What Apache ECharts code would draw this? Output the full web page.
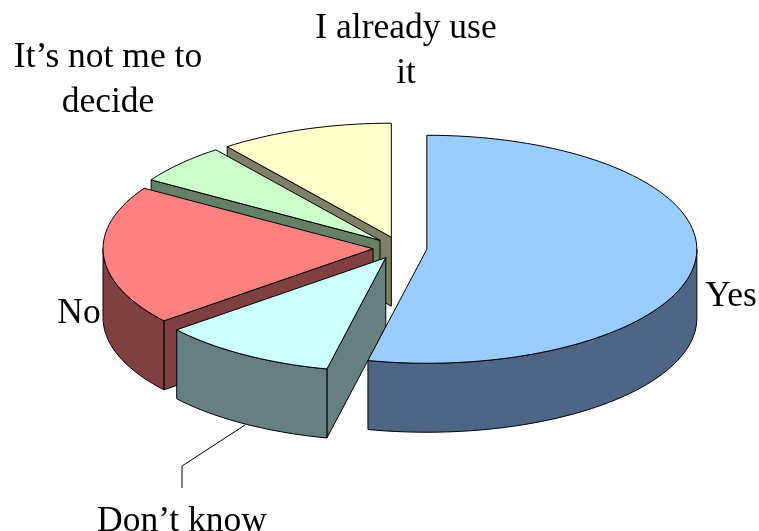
<!DOCTYPE html>
<html>
<head>
<meta charset="utf-8">
<title>Pie</title>
<script src="https://cdn.jsdelivr.net/npm/echarts@6/dist/echarts.min.js"></script>
<style>
	html, body { margin: 0; padding: 0; background: #fff; }
	#charts { width: 759px; height: 531px; }
</style>
</head>
<body>
<div id="charts"></div>
<script>
// clockwise from 12 o'clock
var categories = ['Yes', 'Don\u2019t know', 'No', 'It\u2019s not me to\ndecide', 'I already use\nit'];
var shares = [53.5, 10.6, 19.8, 5.7, 10.4];
var topColors = ['#99ccff', '#ccffff', '#ff8080', '#ccffcc', '#ffffcc'];
var sideColors = ['#4d6685', '#668080', '#804040', '#668066', '#808066'];

var CX = 400, CY = 248, RX = 270, RY = 114, DEPTH = 69, EXPLODE = 27;

function pt(cx, cy, deg){
	var a = deg * Math.PI / 180;
	return [cx + RX * Math.sin(a), cy - RY * Math.cos(a)];
}

function arcPoints(cx, cy, from, to){
	var pts = [];
	var n = Math.max(2, Math.ceil((to - from) / 2));
	for(var i = 0; i <= n; i++){
		pts.push(pt(cx, cy, from + (to - from) * i / n));
	}
	return pts;
}

function poly(points, fill){
	return {
		type: 'polygon',
		shape: { points: points },
		style: { fill: fill, stroke: '#000', lineWidth: 1, lineJoin: 'round' }
	};
}

function down(p){
	return [p[0], p[1] + DEPTH];
}

function renderSlice(params, api){
	var idx = api.value(0);
	var total = 0, before = 0;
	for(var i = 0; i < shares.length; i++){
		if(i < idx) before += shares[i];
		total += shares[i];
	}
	var start = before / total * 360;
	var end = start + api.value(1) / total * 360;
	var mid = (start + end) / 2 * Math.PI / 180;
	//exploded slice tip
	var cx = CX + EXPLODE * Math.sin(mid);
	var cy = CY - EXPLODE * Math.cos(mid) * RY / RX;
	var tip = [cx, cy];
	var side = sideColors[idx];
	var children = [];

	//radial walls, only the one that faces the viewer
	if(start >= 180){
		var a = pt(cx, cy, start);
		children.push(poly([tip, a, down(a), down(tip)], side));
	}
	if(end <= 180){
		var b = pt(cx, cy, end);
		children.push(poly([tip, b, down(b), down(tip)], side));
	}

	//outer wall, only the front half of the ellipse
	var from = Math.max(start, 90), to = Math.min(end, 270);
	if(to > from){
		var outer = arcPoints(cx, cy, from, to);
		children.push(poly(outer.concat(outer.map(down).reverse()), side));
	}

	children.push(poly([tip].concat(arcPoints(cx, cy, start, end)), topColors[idx]));
	return { type: 'group', children: children };
}

//painted back to front
var seriesData = [];
for(var i = shares.length - 1; i >= 0; i--){
	seriesData.push([i, shares[i]]);
}

var labelFont = { fontFamily: '"Liberation Serif", serif', fontSize: 35.5, fill: '#000', align: 'center', verticalAlign: 'middle', lineHeight: 45 };

function label(name, x, y){
	return { type: 'text', x: x, y: y, style: Object.assign({ text: name }, labelFont) };
}

var option = {
	animation: false,
	xAxis: { show: false },
	yAxis: { show: false },
	graphic: [
		{ type: 'polyline', shape: { points: [[245, 425], [182, 466], [182, 488]] }, style: { stroke: '#000', lineWidth: 1, fill: null } },
		label(categories[0], 731, 297),
		label(categories[1], 182, 522),
		label(categories[2], 79, 314),
		label(categories[3], 108, 80),
		label(categories[4], 406, 51)
	],
	series: [{
		type: 'custom',
		coordinateSystem: 'none',
		renderItem: renderSlice,
		data: seriesData
	}]
};

var charts = echarts.init(document.getElementById('charts'));
charts.setOption(option);
</script>
</body>
</html>
